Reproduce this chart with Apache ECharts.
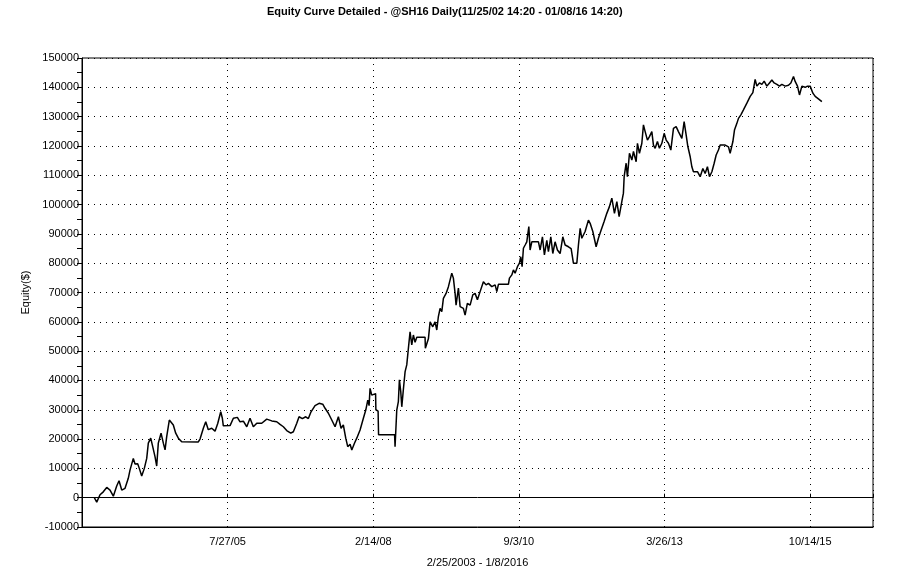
<!DOCTYPE html>
<html>
<head>
<meta charset="utf-8">
<script src="https://cdn.jsdelivr.net/npm/echarts@6/dist/echarts.min.js"></script>
<style>html,body{margin:0;padding:0;background:#fff}#c{width:901px;height:583px}</style>
</head>
<body>
<div id="c"></div>
<script>
// Decimal-year dates of the curve's points
const years = [
2003.231,2003.273,2003.331,2003.388,2003.448,2003.506,2003.564,2003.623,2003.664,2003.711,
2003.769,2003.826,2003.856,2003.914,2003.944,2003.991,2004.019,2004.061,2004.107,2004.149,
2004.177,2004.219,2004.254,2004.294,2004.324,2004.352,2004.400,2004.440,2004.470,2004.499,
2004.545,2004.575,2004.615,2004.657,2004.703,2004.762,2005.053,2005.083,2005.141,2005.183,
2005.228,2005.288,2005.346,2005.393,2005.446,2005.474,2005.491,2005.609,2005.667,2005.737,
2005.784,2005.842,2005.902,2005.959,2006.017,2006.077,2006.164,2006.252,2006.340,2006.427,
2006.485,2006.543,2006.602,2006.673,2006.718,2006.778,2006.818,2006.876,2006.935,2006.981,
2007.028,2007.098,2007.169,2007.233,2007.274,2007.332,2007.391,2007.449,2007.507,2007.554,
2007.594,2007.636,2007.671,2007.712,2007.742,2007.787,2007.829,2007.887,2007.945,2007.987,
2008.022,2008.045,2008.062,2008.092,2008.159,2008.164,2008.203,2008.211,2008.492,2008.500,
2008.530,2008.558,2008.576,2008.600,2008.618,2008.646,2008.676,2008.705,2008.734,2008.763,
2008.793,2008.821,2008.851,2008.881,2009.026,2009.031,2009.084,2009.114,2009.161,2009.201,
2009.231,2009.259,2009.289,2009.319,2009.347,2009.394,2009.435,2009.464,2009.494,2009.522,
2009.552,2009.569,2009.610,2009.640,2009.697,2009.727,2009.767,2009.815,2009.862,2009.902,
2009.943,2009.990,2010.048,2010.095,2010.136,2010.195,2010.253,2010.283,2010.311,2010.486,
2010.504,2010.546,2010.574,2010.603,2010.644,2010.679,2010.703,2010.726,2010.749,2010.779,
2010.808,2010.844,2010.866,2010.896,2011.012,2011.042,2011.082,2011.117,2011.159,2011.187,
2011.229,2011.264,2011.304,2011.345,2011.392,2011.439,2011.480,2011.538,2011.585,2011.625,
2011.685,2011.713,2011.743,2011.772,2011.830,2011.888,2011.918,2011.965,2012.023,2012.063,
2012.111,2012.163,2012.210,2012.256,2012.298,2012.344,2012.386,2012.426,2012.473,2012.501,
2012.514,2012.549,2012.571,2012.607,2012.649,2012.677,2012.724,2012.747,2012.782,2012.824,
2012.852,2012.882,2012.922,2012.957,2012.999,2013.027,2013.057,2013.097,2013.132,2013.174,
2013.215,2013.250,2013.290,2013.332,2013.378,2013.425,2013.465,2013.525,2013.565,2013.600,
2013.630,2013.670,2013.700,2013.728,2013.798,2013.846,2013.893,2013.933,2013.973,2014.009,
2014.051,2014.091,2014.126,2014.166,2014.196,2014.226,2014.284,2014.342,2014.371,2014.419,
2014.447,2014.489,2014.517,2014.559,2014.604,2014.664,2014.722,2014.769,2014.809,2014.839,
2014.885,2014.927,2014.967,2015.014,2015.060,2015.102,2015.142,2015.190,2015.235,2015.277,
2015.335,2015.393,2015.435,2015.481,2015.510,2015.551,2015.586,2015.628,2015.686,2015.726,
2015.773,2015.821,2015.861,2015.901,2015.936,2015.978
];
// Equity values in dollars
const equity = [
0,-1500,1000,2000,3500,2600,500,4000,5800,2600,
3200,6600,9400,13400,11500,11600,10000,7400,10000,13400,
18600,20300,17400,14000,10800,18600,22000,18600,16300,20800,
26500,27100,24800,22000,20300,19100,19000,20000,23700,25900,
23200,23700,22700,25300,29300,27100,24500,24600,27100,27400,
25900,26100,24200,27100,24200,25400,25400,26800,26200,25900,
25000,24200,22900,22000,22500,25400,27600,27000,27600,27000,
29300,31400,32200,31900,30500,28800,26500,24200,27600,23700,
24800,20300,17400,18200,16300,18500,20300,23100,27100,29900,
33300,31400,37300,35000,35500,30000,29500,21500,21500,17400,
29900,32800,40200,36200,31000,37000,43000,45300,51000,56600,
52100,55500,53000,54700,54700,51000,54200,60000,58300,60000,
57200,61800,64600,63500,68000,69700,72000,71500,76600,74900,
69700,65700,71500,65200,64600,62300,66300,65700,69200,69700,
67500,70300,73700,72600,73100,72000,72600,70300,72800,72800,
74900,76000,77700,76600,78800,80000,82200,78800,85100,86200,
87300,92500,84500,87300,87300,84500,89000,82800,87800,83900,
89000,83300,87300,84500,83300,89000,86200,85600,85000,80000,
80000,86200,91900,88500,90800,94700,93600,90800,85600,88500,
91300,94200,97000,99300,102200,97000,101000,95900,101000,103900,
109500,114100,109500,117500,115200,118100,114600,120900,117500,120900,
127200,124900,122000,123200,124900,120300,119200,121500,119200,120900,
124300,122000,120900,118600,126000,126600,124900,122600,128300,123800,
119800,116400,112900,111200,111200,109500,112300,110600,112900,109500,
111200,114100,116900,118600,120300,119800,120300,119700,117500,121500,
125400,127700,129400,130600,132300,134600,136900,138200,142700,140400,
141500,141000,142100,140400,141500,142500,141500,141000,140400,141000,
140400,140700,141500,143700,142000,140400,137400,140400,140000,140400,
140400,138000,136900,136300,136300,135100
];
// X-axis tick labels (one per gridline)
const xTickLabels = ['7/27/05', '2/14/08', '9/3/10', '3/26/13', '10/14/15'];
const X_ORIGIN = 2003.015;   // decimal year at the left edge of the plot
const X_STEP = 2.5517;       // years between labelled ticks
const X_SPAN = 13.859;       // years shown across the plot

const data = years.map((y, i) => [y - X_ORIGIN, equity[i]]);
const labelFmt = v => {
  const k = Math.round(v / X_STEP);
  if (k >= 1 && k <= xTickLabels.length && Math.abs(v - k * X_STEP) < 1e-3) return xTickLabels[k - 1];
  return '';
};
const FONT = '"Liberation Sans", Arial, sans-serif';
const chart = echarts.init(document.getElementById('c'), null, {renderer: 'canvas'});
chart.setOption({
  animation: false,
  backgroundColor: '#fff',
  title: {
    text: 'Equity Curve Detailed - @SH16 Daily(11/25/02 14:20 - 01/08/16 14:20)',
    left: 267, top: 0, padding: [6, 5, 5, 0],
    textStyle: {fontFamily: FONT, fontWeight: 'bold', fontSize: 11, color: '#000'}
  },
  grid: {left: 82, right: 28, top: 58, bottom: 56, show: true, borderColor: '#000', borderWidth: 1, backgroundColor: 'transparent'},
  xAxis: [{
    type: 'value', min: 0, max: X_SPAN, interval: X_STEP,
    axisLine: {onZero: false, lineStyle: {color: '#000', width: 1}},
    axisTick: {show: false},
    axisLabel: {formatter: labelFmt, color: '#000', fontSize: 11, fontFamily: FONT, margin: 9, showMinLabel: false, showMaxLabel: false},
    splitLine: {show: true, lineStyle: {color: '#000', width: 1, type: [1, 5]}},
    name: '2/25/2003 - 1/8/2016', nameLocation: 'middle', nameGap: 30,
    nameTextStyle: {color: '#000', fontSize: 11, fontFamily: FONT}
  }, {
    type: 'value', min: 0, max: X_SPAN, interval: X_STEP, position: 'top',
    axisLine: {onZero: true, lineStyle: {color: '#000', width: 1}},
    axisTick: {show: true, length: 4, lineStyle: {color: '#000'}},
    axisLabel: {show: false},
    splitLine: {show: false}
  }],
  yAxis: {
    type: 'value', min: -10000, max: 150000, interval: 10000,
    axisLine: {show: true, lineStyle: {color: '#000', width: 1}},
    axisTick: {show: true, length: 5, lineStyle: {color: '#000'}},
    minorTick: {show: true, splitNumber: 2, length: 5, lineStyle: {color: '#000'}},
    axisLabel: {color: '#000', fontSize: 11, fontFamily: FONT, margin: 3, formatter: v => String(v)},
    splitLine: {show: true, lineStyle: {color: '#000', width: 1, type: [1, 5]}},
    name: 'Equity($)', nameLocation: 'middle', nameGap: 47,
    nameTextStyle: {color: '#000', fontSize: 11, fontFamily: FONT}
  },
  series: [{
    type: 'line', data: data, xAxisIndex: 0, symbol: 'none',
    lineStyle: {color: '#000', width: 1.5}
  }]
});
</script>
</body>
</html>
